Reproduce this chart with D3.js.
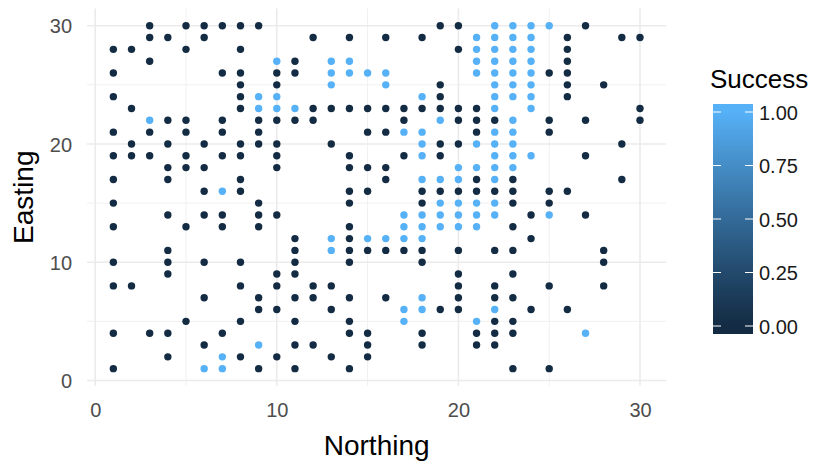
<!DOCTYPE html>
<html>
<head>
<meta charset="utf-8">
<script src="https://cdn.jsdelivr.net/npm/d3@7"></script>
<style>
  html, body { margin: 0; padding: 0; background: #ffffff; }
  svg { display: block; }
  text { font-family: "Liberation Sans", Arial, sans-serif; }
</style>
</head>
<body>
<svg id="chart" width="829" height="466"></svg>
<script>
// Sites that failed (Success = 0), as [Northing, Easting]
const failed = [
  [3,30],[5,30],[3,29],[4,29],[1,28],[2,28],[5,28],[3,27],[1,26],[1,24],[2,23],[4,22],[5,22],
  [1,21],[3,21],[5,21],[2,20],[4,20],[1,19],[2,19],[3,19],[5,19],[4,18],[5,18],[1,17],[4,17],[1,15],
  [6,30],[7,30],[8,30],[9,30],[6,29],[8,28],[7,26],[8,26],[10,26],[8,25],[10,25],[8,24],[8,23],
  [7,22],[9,22],[10,22],[7,21],[9,21],[6,20],[8,20],[9,20],[10,20],[7,19],[8,19],[10,19],[6,18],
  [10,18],[8,17],[6,16],[8,16],[9,15],
  [12,29],[14,29],[11,27],[11,26],[12,23],[13,23],[14,23],[15,23],[11,22],[12,22],[15,21],[13,20],
  [14,19],[14,18],[15,18],[14,16],[15,16],[14,15],
  [19,30],[20,30],[16,29],[18,29],[20,28],[19,25],[19,24],[16,23],[17,23],[18,23],[19,23],[20,23],
  [17,22],[20,22],[16,21],[19,20],[20,20],[17,19],[19,19],[16,18],[16,17],[18,16],[19,16],[20,16],[18,15],
  [25,26],[21,23],[21,22],[22,22],[25,22],[21,21],[25,21],[21,17],[23,17],[21,16],[22,16],[23,16],
  [25,16],[23,15],[25,15],
  [27,30],[26,29],[29,29],[30,29],[26,28],[26,27],[26,26],[26,25],[28,25],[26,24],[30,23],[27,22],
  [30,22],[29,20],[27,19],[29,17],[26,16],
  [4,14],[1,13],[5,13],[4,11],[1,10],[4,10],[4,9],[1,8],[2,8],[5,5],[1,4],[3,4],[4,4],[4,2],[1,1],
  [6,14],[7,14],[9,14],[10,14],[7,13],[9,13],[6,10],[8,10],[10,9],[8,8],[10,8],[6,7],[9,7],[9,6],
  [10,6],[8,5],[7,4],[6,3],[8,2],[10,2],[9,1],
  [14,13],[11,12],[14,12],[11,11],[14,11],[15,11],[11,10],[14,10],[11,9],[12,8],[13,8],[11,7],[12,7],
  [14,7],[13,6],[11,5],[14,5],[14,4],[15,4],[11,3],[12,3],[15,3],[13,2],[15,2],[11,1],[14,1],
  [16,11],[17,11],[18,11],[20,11],[18,10],[20,9],[20,8],[16,7],[20,7],[19,6],[20,6],[18,4],[18,3],
  [24,14],[23,13],[24,12],[22,11],[23,11],[23,9],[22,8],[25,8],[22,7],[23,7],[24,6],[22,5],[23,5],
  [21,4],[22,4],[23,4],[21,3],[22,3],[23,1],[25,1],
  [27,14],[28,11],[28,10],[28,8],[26,6]
];

// Sites that succeeded (Success = 1), as [Northing, Easting]
const succeeded = [
  [3,22],
  [10,27],[9,24],[10,24],[9,23],[10,23],[7,16],
  [13,27],[14,27],[13,26],[14,26],[15,26],[13,25],[11,23],
  [16,26],[16,25],[18,24],[19,22],[17,21],[18,21],[18,20],[18,19],[20,18],[18,17],[19,17],[20,17],
  [19,15],[20,15],
  [22,30],[23,30],[24,30],[25,30],[21,29],[22,29],[23,29],[24,29],[21,28],[22,28],[23,28],[24,28],
  [21,27],[22,27],[23,27],[24,27],[21,26],[22,26],[23,26],[24,26],[22,25],[23,25],[24,25],[22,24],
  [23,24],[24,24],[22,23],[24,23],[23,22],[22,21],[23,21],[21,20],[22,20],[23,20],[22,19],[23,19],
  [24,19],[21,18],[22,18],[23,18],[22,17],[21,15],[22,15],
  [9,3],[7,2],[6,1],[7,1],
  [13,12],[15,12],[13,11],
  [17,14],[18,14],[19,14],[20,14],[17,13],[18,13],[19,13],[20,13],[16,12],[17,12],[18,12],[18,7],
  [17,6],[18,6],[17,5],
  [21,14],[22,14],[25,14],[21,13],[22,6],[21,5],
  [27,4]
];

const xTicks = [0, 10, 20, 30];
const yTicks = [0, 10, 20, 30];
const minorTicks = [5, 15, 25];
const legendTicks = [0, 0.25, 0.5, 0.75, 1];

const points = failed.map(([n, e]) => ({ northing: n, easting: e, success: 0 }))
  .concat(succeeded.map(([n, e]) => ({ northing: n, easting: e, success: 1 })));

const svg = d3.select("#chart");
const FONT = "'Liberation Sans', Arial, sans-serif";

// Panel geometry (data range 1..30 plus 5% expansion on each side)
const x = d3.scaleLinear().domain([0, 30]).range([95.2, 640]);
const y = d3.scaleLinear().domain([0, 30]).range([380.5, 25.7]);
const xLo = x(1 - 29 * 0.05), xHi = x(30 + 29 * 0.05);
const yLo = y(1 - 29 * 0.05), yHi = y(30 + 29 * 0.05);

const color = d3.scaleLinear().domain([0, 1]).range(["#132B43", "#56B1F7"])
  .interpolate(d3.interpolateLab);

// Grid
const grid = svg.append("g");
grid.selectAll(".minor-x").data(minorTicks).join("line")
  .attr("x1", d => x(d)).attr("x2", d => x(d)).attr("y1", yHi).attr("y2", yLo)
  .attr("stroke", "#f0f0f0").attr("stroke-width", 1);
grid.selectAll(".minor-y").data(minorTicks).join("line")
  .attr("y1", d => y(d)).attr("y2", d => y(d)).attr("x1", xLo).attr("x2", xHi)
  .attr("stroke", "#f0f0f0").attr("stroke-width", 1);
grid.selectAll(".major-x").data(xTicks).join("line")
  .attr("x1", d => x(d)).attr("x2", d => x(d)).attr("y1", yHi).attr("y2", yLo)
  .attr("stroke", "#ebebeb").attr("stroke-width", 1.6);
grid.selectAll(".major-y").data(yTicks).join("line")
  .attr("y1", d => y(d)).attr("y2", d => y(d)).attr("x1", xLo).attr("x2", xHi)
  .attr("stroke", "#ebebeb").attr("stroke-width", 1.6);

// Axes (labels only, no axis lines)
const xAxis = svg.append("g").attr("transform", `translate(0,${yLo})`)
  .call(d3.axisBottom(x).tickValues(xTicks).tickSize(0).tickPadding(17));
const yAxis = svg.append("g").attr("transform", `translate(${xLo},0)`)
  .call(d3.axisLeft(y).tickValues(yTicks).tickSize(0).tickPadding(15));
[xAxis, yAxis].forEach(a => {
  a.select(".domain").remove();
  a.selectAll("text").attr("fill", "#4d4d4d").attr("font-size", 20)
    .attr("font-family", FONT);
});
yAxis.selectAll("text").attr("dy", "0.36em");

// Axis titles
svg.append("text").attr("x", (xLo + xHi) / 2).attr("y", 455)
  .attr("text-anchor", "middle").attr("font-size", 28).attr("fill", "#000")
  .attr("font-family", FONT).text("Northing");
svg.append("text").attr("transform", `translate(33,${(yLo + yHi) / 2}) rotate(-90)`)
  .attr("text-anchor", "middle").attr("font-size", 28).attr("fill", "#000")
  .attr("font-family", FONT).text("Easting");

// Points
svg.append("g").selectAll("circle").data(points).join("circle")
  .attr("cx", d => x(d.northing))
  .attr("cy", d => y(d.easting))
  .attr("r", 3.7)
  .attr("fill", d => color(d.success));

// Colour bar legend
const barX = 713, barW = 40, barTop = 104, barBottom = 334;
const ly = d3.scaleLinear().domain([0, 1]).range([barBottom - 8, barTop + 8]);
const defs = svg.append("defs");
const grad = defs.append("linearGradient").attr("id", "succ-grad")
  .attr("gradientUnits", "userSpaceOnUse")
  .attr("x1", 0).attr("y1", ly(0)).attr("x2", 0).attr("y2", ly(1));
d3.range(0, 1.0001, 0.1).forEach(t => {
  grad.append("stop").attr("offset", t).attr("stop-color", color(t));
});
svg.append("rect").attr("x", barX).attr("y", barTop).attr("width", barW)
  .attr("height", barBottom - barTop).attr("fill", "url(#succ-grad)");

const legendAxis = svg.append("g").attr("transform", `translate(${barX + barW},0)`)
  .call(d3.axisRight(ly).tickValues(legendTicks).tickFormat(d3.format(".2f"))
    .tickSize(0).tickPadding(6));
legendAxis.select(".domain").remove();
legendAxis.selectAll("text").attr("fill", "#1a1a1a").attr("font-size", 20)
  .attr("font-family", FONT).attr("dy", "0.36em");
// White tick marks on both edges of the bar
svg.append("g").selectAll("line").data(legendTicks).join("line")
  .attr("x1", barX).attr("x2", barX + 8).attr("y1", d => ly(d)).attr("y2", d => ly(d))
  .attr("stroke", "#fff").attr("stroke-width", 1);
svg.append("g").selectAll("line").data(legendTicks).join("line")
  .attr("x1", barX + barW - 8).attr("x2", barX + barW).attr("y1", d => ly(d)).attr("y2", d => ly(d))
  .attr("stroke", "#fff").attr("stroke-width", 1);

svg.append("text").attr("x", 710).attr("y", 88).attr("font-size", 26).attr("fill", "#000")
  .attr("font-family", FONT).text("Success");
</script>
</body>
</html>
